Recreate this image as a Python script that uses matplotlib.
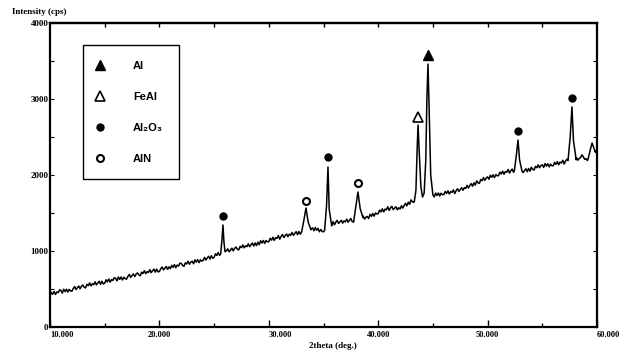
import numpy as np
import matplotlib
matplotlib.use("Agg")
import matplotlib.pyplot as plt
from matplotlib.ticker import MultipleLocator

# background scan, 10 -> 60 deg in 0.125 deg steps
scan_start = 10.0
scan_step = 0.125
background = [
    412, 456, 431, 468, 428, 462, 452, 489,
    480, 447, 497, 466, 498, 459, 495, 476,
    470, 507, 532, 493, 517, 539, 503, 536,
    552, 524, 514, 561, 544, 580, 541, 569,
    557, 594, 554, 580, 602, 562, 602, 566,
    577, 621, 594, 631, 590, 624, 613, 649,
    640, 607, 657, 626, 658, 619, 655, 636,
    630, 667, 692, 653, 677, 699, 663, 696,
    712, 684, 674, 721, 704, 740, 701, 729,
    717, 754, 714, 740, 762, 722, 762, 726,
    730, 767, 790, 751, 774, 796, 759, 791,
    767, 811, 784, 821, 780, 814, 803, 839,
    837, 809, 799, 846, 829, 865, 826, 854,
    865, 832, 884, 853, 886, 847, 884, 866,
    877, 916, 880, 908, 932, 894, 938, 904,
    917, 964, 941, 981, 943, 979, 972, 1011,
    965, 1003, 1028, 990, 1014, 1037, 1002, 1035,
    1052, 1024, 1014, 1061, 1044, 1080, 1041, 1069,
    1057, 1094, 1056, 1082, 1105, 1065, 1106, 1071,
    1115, 1083, 1135, 1105, 1138, 1100, 1138, 1120,
    1122, 1167, 1142, 1180, 1140, 1175, 1166, 1203,
    1155, 1192, 1217, 1178, 1202, 1224, 1188, 1221,
    1207, 1244, 1206, 1232, 1255, 1215, 1256, 1221,
    1272, 1245, 1235, 1282, 1266, 1303, 1265, 1293,
    1305, 1266, 1310, 1273, 1298, 1253, 1283, 1258,
    1252, 1304, 1287, 1332, 1300, 1342, 1341, 1385,
    1345, 1380, 1403, 1362, 1384, 1404, 1367, 1397,
    1382, 1419, 1379, 1405, 1427, 1387, 1427, 1391,
    1442, 1413, 1400, 1440, 1421, 1461, 1420, 1445,
    1455, 1427, 1482, 1456, 1493, 1459, 1500, 1486,
    1492, 1538, 1514, 1554, 1515, 1551, 1543, 1582,
    1535, 1568, 1588, 1545, 1564, 1582, 1542, 1570,
    1552, 1596, 1564, 1598, 1627, 1594, 1642, 1614,
    1672, 1648, 1640, 1690, 1700, 1705, 1710, 1710,
    1710, 1715, 1720, 1730, 1740, 1745, 1750, 1755,
    1745, 1712, 1762, 1731, 1763, 1724, 1760, 1741,
    1742, 1784, 1757, 1792, 1750, 1782, 1771, 1805,
    1755, 1794, 1820, 1784, 1809, 1833, 1799, 1834,
    1822, 1864, 1829, 1860, 1887, 1852, 1897, 1866,
    1922, 1897, 1890, 1940, 1926, 1965, 1930, 1960,
    1975, 1944, 1997, 1969, 2003, 1966, 2005, 1989,
    1992, 2037, 2012, 2050, 2010, 2045, 2036, 2073,
    2025, 2058, 2078, 2035, 2070, 2075, 2080, 2075,
    2032, 2070, 2032, 2059, 2082, 2043, 2085, 2050,
    2102, 2075, 2065, 2113, 2096, 2133, 2095, 2123,
    2135, 2100, 2150, 2117, 2148, 2107, 2143, 2122,
    2122, 2166, 2139, 2176, 2135, 2169, 2158, 2194,
    2145, 2183, 2208, 2200, 2200, 2220, 2240, 2260,
    2240, 2225, 2195, 2218, 2230, 2265, 2240, 2205,
    2215, 2190, 2220, 2300, 2400, 2420, 2380, 2320,
    2290,
]

# peak profiles (2theta, counts)
peaks_theta = [
    [25.60, 25.72, 25.81, 25.90, 26.00],
    [33.00, 33.20, 33.40, 33.60, 33.85],
    [35.10, 35.28, 35.41, 35.52, 35.75],
    [37.75, 37.95, 38.15, 38.35, 38.60],
    [43.30, 43.45, 43.55, 43.64, 43.75, 43.90, 44.05, 44.20, 44.35, 44.45,
     44.55, 44.65, 44.80, 45.00],
    [52.45, 52.62, 52.78, 52.92, 53.15],
    [57.35, 57.55, 57.71, 57.85, 58.10],
    [59.20, 59.40, 59.55, 59.70, 59.85],
]
peaks_counts = [
    [960, 1150, 1342, 1120, 990],
    [1250, 1400, 1566, 1380, 1280],
    [1270, 1600, 2105, 1550, 1330],
    [1380, 1580, 1776, 1560, 1440],
    [1650, 1800, 2300, 2658, 2300, 1850, 1710, 1760, 2200, 3000,
     3460, 2900, 2000, 1740],
    [2060, 2250, 2460, 2200, 2050],
    [2190, 2500, 2895, 2450, 2200],
    [2220, 2340, 2420, 2360, 2300],
]

# phase markers above the peaks
al_theta, al_mark = [44.55], [3579]
feal_theta, feal_mark = [43.64], [2763]
al2o3_theta, al2o3_mark = [25.81, 35.41, 52.78, 57.71], [1460, 2237, 2579, 3013]
aln_theta, aln_mark = [33.40, 38.15], [1658, 1895]

x_ticks = [10, 20, 30, 40, 50, 60]
x_labels = ["10.000", "20.000", "30.000", "40.000", "50.000", "60.000"]
x_label_ha = ["left", "center", "left", "center", "center", "left"]
y_ticks = [0, 1000, 2000, 3000, 4000]

# merge background with peaks
bg_theta = scan_start + scan_step * np.arange(len(background))
bg_counts = np.array(background, dtype=float)
keep = np.ones(len(bg_theta), dtype=bool)
for th in peaks_theta:
    keep &= ~((bg_theta >= th[0]) & (bg_theta <= th[-1]))
theta = np.concatenate([bg_theta[keep]] + [np.array(t) for t in peaks_theta])
counts = np.concatenate([bg_counts[keep]] + [np.array(c, dtype=float) for c in peaks_counts])
order = np.argsort(theta)
theta, counts = theta[order], counts[order]

tick_font = dict(family="Liberation Serif", weight="bold", size=6.5)
xtick_font = dict(family="Liberation Serif", weight="bold", size=6)

fig = plt.figure(figsize=(6.19, 3.54), dpi=100)
ax = fig.add_axes([50 / 619, 1 - 327 / 354, 547 / 619, 304 / 354])

ax.plot(theta, counts, color="black", lw=1.1)

ax.plot(al_theta, al_mark, ls="none", marker="^", ms=7, color="black", label="Al")
ax.plot(feal_theta, feal_mark, ls="none", marker="^", ms=7, mfc="white",
        mec="black", mew=1.2, label="FeAl")
ax.plot(al2o3_theta, al2o3_mark, ls="none", marker="o", ms=5, color="black",
        label="Al\u2082O\u2083")
ax.plot(aln_theta, aln_mark, ls="none", marker="o", ms=5, mfc="white",
        mec="black", mew=1.5, label="AlN")

ax.set_xlim(10, 60)
ax.set_ylim(0, 4000)

ax.set_xticks(x_ticks)
ax.set_xticklabels(x_labels, fontdict=xtick_font)
for lab, ha in zip(ax.get_xticklabels(), x_label_ha):
    lab.set_ha(ha)
ax.xaxis.set_minor_locator(MultipleLocator(5))
ax.set_yticks(y_ticks)
ax.set_yticklabels([str(v) for v in y_ticks], fontdict=tick_font)
ax.yaxis.set_minor_locator(MultipleLocator(500))

ax.tick_params(axis="x", which="major", direction="in", length=5, width=1, pad=3)
ax.tick_params(axis="x", which="minor", direction="in", length=3, width=1)
ax.tick_params(axis="y", which="both", direction="in", length=3, width=0.8,
               right=True, pad=1)

top = ax.secondary_xaxis("top")
top.set_xticks(np.arange(15, 60, 5))
top.tick_params(direction="in", length=3, width=1, labeltop=False)
top.spines["top"].set_linewidth(1.6)

for s in ax.spines.values():
    s.set_linewidth(1.6)

leg = ax.legend(loc="upper left", bbox_to_anchor=(33 / 547, (327 - 45) / 304),
                borderaxespad=0, frameon=True, fancybox=False, edgecolor="black",
                framealpha=1, labelspacing=1.9, borderpad=1.4, handlelength=0.3,
                handletextpad=2.8, prop=dict(family=["Liberation Sans", "DejaVu Sans"],
                                             weight="bold", size=8))
leg.get_frame().set_linewidth(1.0)

fig.text(12 / 619, 1 - 12 / 354, "Intensity (cps)", va="center", ha="left", **tick_font)
fig.text(333 / 619, 1 - 346 / 354, "2theta (deg.)", va="center", ha="center", **tick_font)

fig.savefig("out.png", dpi=100)
